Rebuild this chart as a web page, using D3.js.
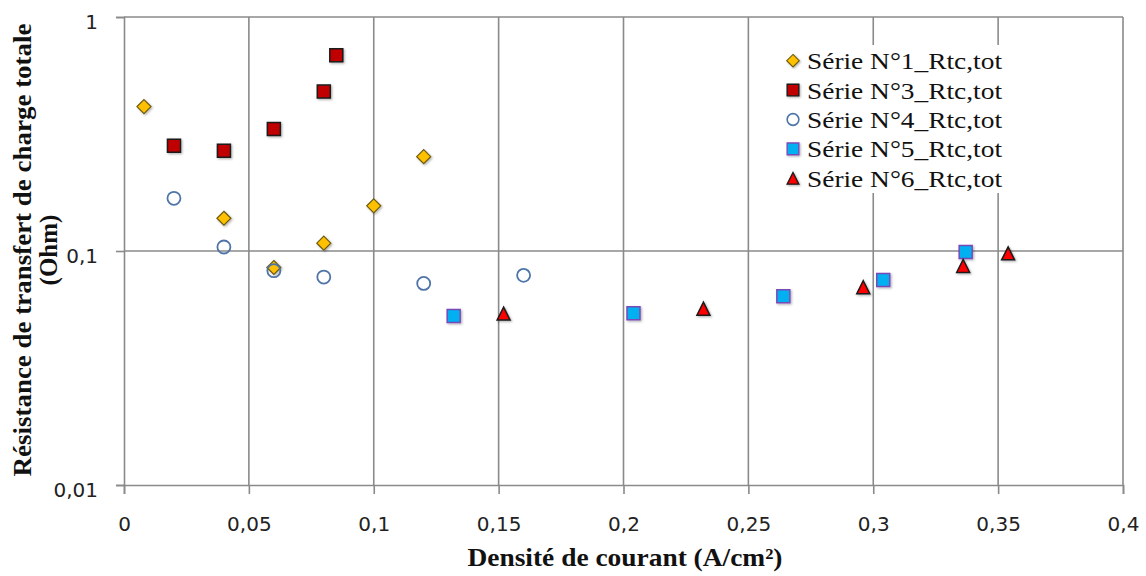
<!DOCTYPE html>
<html><head><meta charset="utf-8">
<script src="https://cdn.jsdelivr.net/npm/d3@7"></script>
<style>body{margin:0;background:#fff}svg{display:block}</style>
</head><body>
<svg id="c" width="1146" height="576"></svg>
<script>
const xTicks = [0, 0.05, 0.1, 0.15, 0.2, 0.25, 0.3, 0.35, 0.4];
const yTicks = [0.01, 0.1, 1];
const seriesNames = ["Série N°1_Rtc,tot","Série N°3_Rtc,tot","Série N°4_Rtc,tot","Série N°5_Rtc,tot","Série N°6_Rtc,tot"];
const s1x = [0.008, 0.04, 0.06, 0.08, 0.1, 0.12];
const s1y = [0.414, 0.138, 0.085, 0.108, 0.156, 0.253];
const s3x = [0.02, 0.04, 0.06, 0.08, 0.085];
const s3y = [0.282, 0.268, 0.332, 0.48, 0.686];
const s4x = [0.02, 0.04, 0.06, 0.08, 0.12, 0.16];
const s4y = [0.168, 0.104, 0.0824, 0.0774, 0.0727, 0.0787];
const s5x = [0.132, 0.204, 0.264, 0.304, 0.337];
const s5y = [0.0528, 0.0542, 0.064, 0.0752, 0.099];
const s6x = [0.152, 0.232, 0.296, 0.336, 0.354];
const s6y = [0.054, 0.0567, 0.070, 0.0863, 0.0977];

const svg = d3.select("#c");
const L = 124, R = 1123, T = 17, B = 485;
const x = d3.scaleLinear().domain([0, 0.4]).range([L, R]);
const y = d3.scaleLog().domain([0.01, 1]).range([B, T]);
const fmt = d => String(d).replace('.', ',');

const defs = svg.append("defs");
const f = defs.append("filter").attr("id","sh").attr("x","-50%").attr("y","-50%").attr("width","200%").attr("height","200%");
f.append("feDropShadow").attr("dx",1.2).attr("dy",1.2).attr("stdDeviation",1).attr("flood-color","#000").attr("flood-opacity",0.3);

const gridCol = "#8a8a8a";
// gridlines
svg.append("g").selectAll("line").data(xTicks.slice(1)).join("line")
  .attr("x1", d => x(d)).attr("x2", d => x(d)).attr("y1", T).attr("y2", B)
  .attr("stroke", gridCol).attr("stroke-width", 1.6);
svg.append("g").selectAll("line").data(yTicks.slice(1)).join("line")
  .attr("x1", L).attr("x2", R).attr("y1", d => y(d)).attr("y2", d => y(d))
  .attr("stroke", gridCol).attr("stroke-width", 1.6);

// axes
const xAxis = svg.append("g").attr("transform", `translate(0,${B})`)
  .call(d3.axisBottom(x).tickValues(xTicks).tickFormat(fmt).tickSize(9).tickPadding(23));
const yAxis = svg.append("g").attr("transform", `translate(${L},0)`)
  .call(d3.axisLeft(y).tickValues(yTicks).tickFormat(fmt).tickSize(8).tickPadding(18));
[xAxis, yAxis].forEach(a => {
  a.select(".domain").attr("stroke", gridCol).attr("stroke-width", 1.6);
  a.selectAll(".tick line").attr("stroke", gridCol).attr("stroke-width", 1.6);
  a.selectAll("text").attr("font-family", "DejaVu Sans").attr("font-size", 20).attr("fill", "#222");
});
yAxis.selectAll("text").attr("dy", "0.55em");

// markers
const S = 13;
const diamond = s => `M0,${-s/2}L${s/2},0L0,${s/2}L${-s/2},0Z`;
const square = s => `M${-s/2},${-s/2}h${s}v${s}h${-s}Z`;
const tri = s => `M0,${-s/2}L${s/2},${s/2}L${-s/2},${s/2}Z`;
const circle = s => `M${s/2},0A${s/2},${s/2},0,1,1,${-s/2},0A${s/2},${s/2},0,1,1,${s/2},0Z`;
const styles = [
  {xs: s1x, ys: s1y, path: diamond(14), fill: "#FFC000", stroke: "#6b5a10", sw: 1.2},
  {xs: s3x, ys: s3y, path: square(13), fill: "#C00000", stroke: "#1a1a1a", sw: 1.5},
  {xs: s4x, ys: s4y, path: circle(13), fill: "none", stroke: "#4f75a8", sw: 1.8},
  {xs: s5x, ys: s5y, path: square(13), fill: "#00B0F0", stroke: "#7a4ab8", sw: 1.5},
  {xs: s6x, ys: s6y, path: tri(13), fill: "#FF0000", stroke: "#1a1a1a", sw: 1.5}
];
styles.forEach(st => {
  svg.append("g").selectAll("path").data(st.xs.map((v, i) => [v, st.ys[i]])).join("path")
    .attr("d", st.path).attr("transform", d => `translate(${x(d[0])},${y(d[1])})`)
    .attr("fill", st.fill).attr("stroke", st.stroke).attr("stroke-width", st.sw)
    .attr("filter", st.fill === "none" ? null : "url(#sh)");
});

// legend
const lg = svg.append("g");
lg.append("rect").attr("x", 778).attr("y", 45).attr("width", 235).attr("height", 148).attr("fill", "#fff");
styles.forEach((st, i) => {
  const cy = 60.7 + i * 29.4;
  lg.append("path").attr("d", st.path).attr("transform", `translate(793,${cy}) scale(0.9)`)
    .attr("fill", st.fill).attr("stroke", st.stroke).attr("stroke-width", st.sw)
    .attr("filter", st.fill === "none" ? null : "url(#sh)");
  lg.append("text").attr("x", 807).attr("y", cy + 8.5).text(seriesNames[i])
    .attr("font-family", "Liberation Serif").attr("font-size", 24).attr("fill", "#111")
    .attr("textLength", 195).attr("lengthAdjust", "spacingAndGlyphs");
});

// axis titles
svg.append("text").attr("x", 625).attr("y", 566).attr("text-anchor", "middle")
  .attr("font-family", "Liberation Serif").attr("font-weight", "bold").attr("font-size", 25).attr("fill", "#111")
  .attr("textLength", 315).attr("lengthAdjust", "spacingAndGlyphs")
  .text("Densité de courant (A/cm²)");
const yt = svg.append("g").attr("transform", "translate(0,250) rotate(-90)");
yt.append("text").attr("x", 0).attr("y", 31).attr("text-anchor", "middle")
  .attr("font-family", "Liberation Serif").attr("font-weight", "bold").attr("font-size", 25).attr("fill", "#111")
  .attr("textLength", 453).attr("lengthAdjust", "spacingAndGlyphs")
  .text("Résistance de transfert de charge totale");
yt.append("text").attr("x", 0).attr("y", 57).attr("text-anchor", "middle")
  .attr("font-family", "Liberation Serif").attr("font-weight", "bold").attr("font-size", 25).attr("fill", "#111")
  .text("(Ohm)");
</script>
</body></html>
